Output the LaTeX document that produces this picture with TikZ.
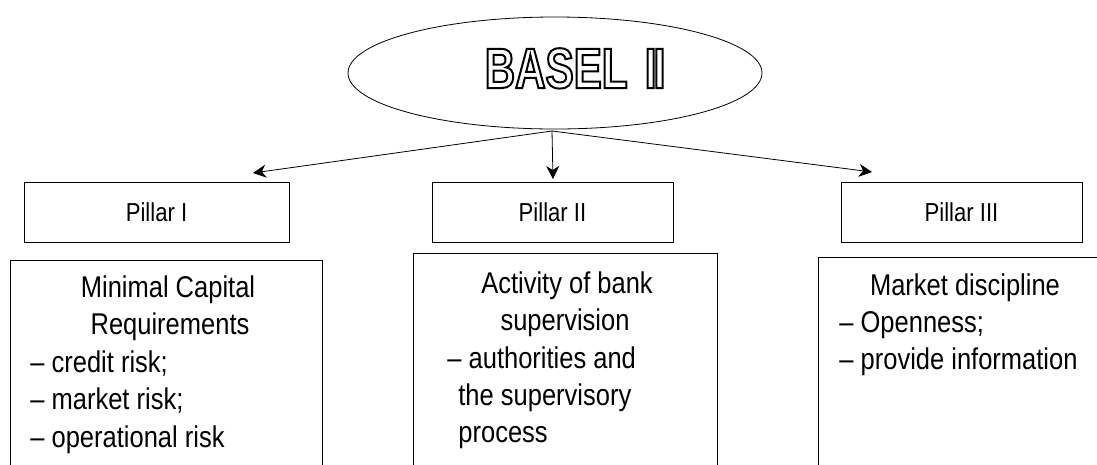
\documentclass[tikz,border=0pt]{standalone}
\usepackage{fontspec}
\setmainfont{Liberation Sans}[FakeStretch=0.85]
\newfontfamily\titlefont{Liberation Sans}[FakeStretch=0.74,BoldFont={Liberation Sans Bold}]
\usetikzlibrary{shapes.geometric,arrows.meta}
\newcommand{\outlinetext}[1]{\special{pdf:literal direct 1 Tr 2 w}#1\special{pdf:literal direct 0 Tr}}
\begin{document}
\begin{tikzpicture}[x=1pt,y=-1pt,line width=0.8pt,
  pillar/.style={draw,rectangle,inner sep=0pt,minimum width=265pt,minimum height=60pt,font=\fontsize{26}{31}\selectfont},
  bigbox/.style={draw,rectangle,inner sep=0pt,anchor=north west,minimum height=260pt},
  head/.style={anchor=base,inner sep=0pt,font=\fontsize{30}{37.5}\selectfont},
  item/.style={anchor=base west,inner sep=0pt,font=\fontsize{30}{37.5}\selectfont},
  arr/.style={-{Stealth[length=13pt,width=13pt,inset=4pt]}}]
\clip (0,0) rectangle (1097,464);
% ellipse
\node[draw,ellipse,inner sep=0pt,minimum width=414pt,minimum height=112pt] (E) at (555,73) {};
\node[anchor=base,inner sep=0pt] (T) at (575,88) {\titlefont\bfseries\fontsize{57}{60}\selectfont\outlinetext{BASEL\hspace{0.3em}I\hspace{-0.05em}I}};
% pillars
\node[pillar] (P1) at (156.5,212) {Pillar I};
\node[pillar,minimum width=241pt] (P2) at (552.5,212) {Pillar II};
\node[pillar,minimum width=241pt] (P3) at (961.5,212) {Pillar III};
% arrows
\coordinate (src) at (552,131);
\coordinate (a1) at (253,173);
\coordinate (a2) at (553,179);
\coordinate (a3) at (872,172);
\draw[arr] (src) -- (a1);
\draw[arr] (src) -- (a2);
\draw[arr] (src) -- (a3);
% bottom boxes
\node[bigbox,minimum width=312pt] (B1) at (10,260) {};
\node[bigbox,minimum width=304pt] (B2) at (413,253) {};
\node[bigbox,minimum width=350pt] (B3) at (818,257) {};
% box 1 text
\node[head] (t11) at (168,297) {Minimal Capital};
\node[head] (t12) at (170,334) {Requirements};
\node[item] (t13) at (30,372) {– credit risk;};
\node[item] (t14) at (30,409) {– market risk;};
\node[item] (t15) at (30,447) {– operational risk};
% box 2 text
\node[head] (t21) at (567,293) {Activity of bank};
\node[head] (t22) at (565,330) {supervision};
\node[item] (t23) at (447,368) {– authorities and};
\node[item] (t24) at (458,405) {the supervisory};
\node[item] (t25) at (458,442) {process};
% box 3 text
\node[head] (t31) at (965,295) {Market discipline};
\node[item] (t32) at (839,332) {– Openness;};
\node[item] (t33) at (839,369) {– provide information};
\end{tikzpicture}
\end{document}
